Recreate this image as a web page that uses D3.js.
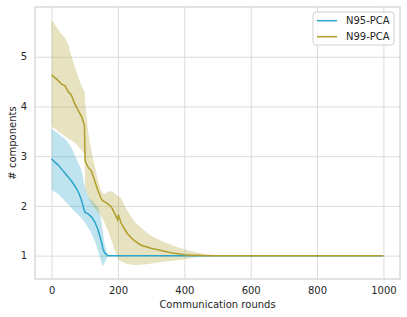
<!DOCTYPE html>
<html>
<head>
<meta charset="utf-8">
<script src="https://cdn.jsdelivr.net/npm/d3@7"></script>
<style>
    body { margin: 0; background: #fff; }
    text { font-family: "DejaVu Sans", sans-serif; fill: #262626; }
</style>
</head>
<body>
<div class="data_figure"></div>
<script>
const rounds = [0, 10, 20, 30, 40, 50, 60, 70, 80, 90, 99, 101, 110, 120, 130, 140, 150, 155,
    160, 170, 180, 190, 199, 201, 210, 220, 230, 240, 250, 260, 270, 280, 290, 300,
    320, 340, 360, 380, 400, 420, 440, 460, 480, 500, 550, 1000];

const n95Mean = [2.95, 2.88, 2.82, 2.74, 2.66, 2.58, 2.50, 2.40, 2.29, 2.12, 1.90, 1.87, 1.84, 1.78, 1.68, 1.52, 1.28, 1.14,
    1.05, 1.00, 1.00, 1.00, 1.00, 1.00, 1.00, 1.00, 1.00, 1.00, 1.00, 1.00, 1.00, 1.00, 1.00, 1.00,
    1.00, 1.00, 1.00, 1.00, 1.00, 1.00, 1.00, 1.00, 1.00, 1.00, 1.00, 1.00];
const n95Upper = [3.55, 3.50, 3.46, 3.40, 3.35, 3.27, 3.17, 3.02, 2.88, 2.72, 2.42, 2.36, 2.20, 2.12, 2.05, 1.98, 1.70, 1.45,
    1.22, 1.01, 1.00, 1.00, 1.00, 1.00, 1.00, 1.00, 1.00, 1.00, 1.00, 1.00, 1.00, 1.00, 1.00, 1.00,
    1.00, 1.00, 1.00, 1.00, 1.00, 1.00, 1.00, 1.00, 1.00, 1.00, 1.00, 1.00];
const n95Lower = [2.32, 2.28, 2.24, 2.17, 2.10, 2.03, 1.96, 1.88, 1.82, 1.75, 1.68, 1.66, 1.56, 1.45, 1.30, 1.10, 0.86, 0.78,
    0.86, 0.99, 1.00, 1.00, 1.00, 1.00, 1.00, 1.00, 1.00, 1.00, 1.00, 1.00, 1.00, 1.00, 1.00, 1.00,
    1.00, 1.00, 1.00, 1.00, 1.00, 1.00, 1.00, 1.00, 1.00, 1.00, 1.00, 1.00];

const n99Mean = [4.63, 4.58, 4.52, 4.45, 4.42, 4.30, 4.22, 4.05, 3.92, 3.80, 3.62, 2.90, 2.78, 2.70, 2.50, 2.30, 2.14, 2.10,
    2.08, 2.04, 1.98, 1.85, 1.72, 1.82, 1.65, 1.53, 1.43, 1.36, 1.30, 1.25, 1.21, 1.19, 1.17, 1.15,
    1.12, 1.09, 1.06, 1.04, 1.02, 1.01, 1.01, 1.00, 1.00, 1.00, 1.00, 1.00];
const n99Upper = [5.74, 5.65, 5.55, 5.45, 5.38, 5.25, 5.00, 4.80, 4.60, 4.42, 4.30, 4.10, 3.50, 3.10, 2.80, 2.50, 2.30, 2.25,
    2.24, 2.28, 2.30, 2.25, 2.20, 2.20, 2.15, 2.00, 1.88, 1.78, 1.68, 1.62, 1.56, 1.50, 1.45, 1.40,
    1.33, 1.27, 1.22, 1.17, 1.13, 1.09, 1.06, 1.04, 1.02, 1.01, 1.00, 1.00];
const n99Lower = [3.59, 3.55, 3.50, 3.45, 3.40, 3.35, 3.32, 3.27, 3.20, 3.12, 3.05, 2.35, 2.20, 2.05, 1.95, 1.88, 1.78, 1.72,
    1.65, 1.50, 1.32, 1.12, 0.95, 0.92, 0.88, 0.85, 0.83, 0.82, 0.81, 0.81, 0.82, 0.82, 0.83, 0.84,
    0.86, 0.88, 0.89, 0.91, 0.92, 0.95, 0.97, 0.98, 0.99, 0.995, 1.00, 1.00];

const seriesNames = ["N95-PCA", "N99-PCA"];
const seriesColors = ["#2ba5cb", "#b09e2d"];

const xTicks = [0, 200, 400, 600, 800, 1000];
const yTicks = [1, 2, 3, 4, 5];

const widthMax = 407;
const heightMax = 317;
const margin = { top: 7, bottom: 38, left: 35, right: 7 };
const width = widthMax - margin.left - margin.right;
const height = heightMax - margin.top - margin.bottom;

const series = [
    { name: seriesNames[0], color: seriesColors[0], mean: n95Mean, lo: n95Lower, hi: n95Upper },
    { name: seriesNames[1], color: seriesColors[1], mean: n99Mean, lo: n99Lower, hi: n99Upper },
];

const xScale = d3.scaleLinear().domain([-50, 1050]).range([0, width]);
const yScale = d3.scaleLinear().domain([0.53, 6.0]).range([height, 0]);

let svg = d3.select(".data_figure")
            .append("svg")
            .attr("width", widthMax)
            .attr("height", heightMax)
            .append("g")
            .attr("transform", "translate(" + margin.left + "," + margin.top + ")");

// grid (seaborn whitegrid look, no tick marks)
svg.append("g")
    .attr("transform", "translate(0," + height + ")")
    .call(d3.axisBottom(xScale).tickValues(xTicks).tickSize(-height).tickPadding(8).tickFormat(d3.format("d")))
    .call(g => g.select(".domain").remove())
    .call(g => g.selectAll("line").attr("stroke", "#dcdcdc").attr("stroke-width", 1))
    .call(g => g.selectAll("text").style("font-size", "10px").attr("fill", "#262626"));

svg.append("g")
    .call(d3.axisLeft(yScale).tickValues(yTicks).tickSize(-width).tickPadding(8).tickFormat(d3.format("d")))
    .call(g => g.select(".domain").remove())
    .call(g => g.selectAll("line").attr("stroke", "#dcdcdc").attr("stroke-width", 1))
    .call(g => g.selectAll("text").style("font-size", "10px").attr("fill", "#262626"));

// spines
svg.append("rect")
    .attr("width", width)
    .attr("height", height)
    .attr("fill", "none")
    .attr("stroke", "#d0d0d0")
    .attr("stroke-width", 1.2);

const area = d3.area()
    .x(d => xScale(d.r))
    .y0(d => yScale(d.lo))
    .y1(d => yScale(d.hi));

const line = d3.line()
    .x(d => xScale(d.r))
    .y(d => yScale(d.m));

series.forEach(s => {
    s.points = rounds.map((r, i) => ({ r: r, m: s.mean[i], lo: s.lo[i], hi: s.hi[i] }));
});

series.forEach(s => {
    svg.append("path")
        .datum(s.points)
        .attr("d", area)
        .attr("fill", s.color)
        .attr("fill-opacity", 0.3);
});

series.forEach(s => {
    svg.append("path")
        .datum(s.points)
        .attr("d", line)
        .attr("fill", "none")
        .attr("stroke", s.color)
        .attr("stroke-width", 1.5);
});

// axis labels
svg.append("text")
    .text("Communication rounds")
    .attr("x", width / 2)
    .attr("y", height + 29)
    .attr("text-anchor", "middle")
    .style("font-size", "10px");

svg.append("text")
    .text("# components")
    .attr("transform", "rotate(-90)")
    .attr("x", -height / 2)
    .attr("y", -19)
    .attr("text-anchor", "middle")
    .style("font-size", "10px");

// legend
let legend = svg.append("g")
    .attr("transform", "translate(" + (313 - margin.left) + "," + (12 - margin.top) + ")");
legend.append("rect")
    .attr("width", 81)
    .attr("height", 33)
    .attr("rx", 3)
    .attr("fill", "#fff")
    .attr("fill-opacity", 0.8)
    .attr("stroke", "#d0d0d0")
    .attr("stroke-width", 1);
series.forEach((s, i) => {
    const yy = 8.7 + i * 16;
    legend.append("line")
        .attr("x1", 4).attr("x2", 24)
        .attr("y1", yy).attr("y2", yy)
        .attr("stroke", s.color)
        .attr("stroke-width", 1.5);
    legend.append("text")
        .text(s.name)
        .attr("x", 33)
        .attr("y", yy)
        .attr("dominant-baseline", "central")
        .style("font-size", "10px");
});
</script>
</body>
</html>
